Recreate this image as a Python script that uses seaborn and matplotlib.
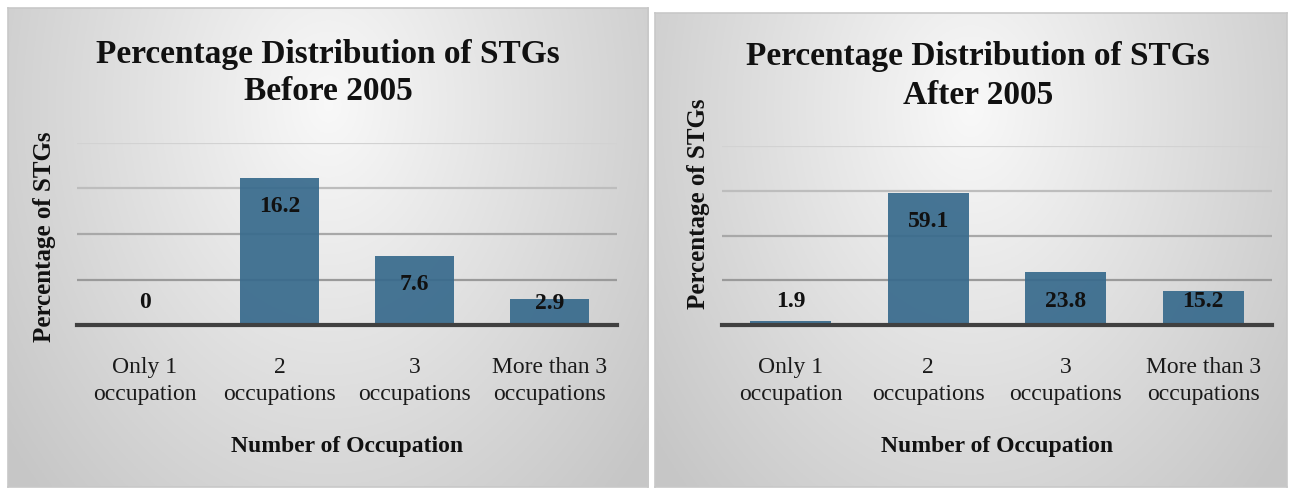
import numpy as np
import seaborn as sns
import matplotlib.pyplot as plt

# data
categories = ["Only 1\noccupation", "2\noccupations", "3\noccupations", "More than 3\noccupations"]
before_2005 = [0, 16.2, 7.6, 2.9]
after_2005 = [1.9, 59.1, 23.8, 15.2]

sns.set_theme(style="white")
plt.rcParams['font.family'] = ['Liberation Serif', 'DejaVu Serif']

bar_color = "#376a8c"
W, H = 1290, 488
fig = plt.figure(figsize=(W / 100, H / 100), dpi=100)
fig.patch.set_facecolor("white")


def panel_bg(x0, y0, x1, y1):
    # soft radial grey gradient like the Office chart style
    bg = fig.add_axes([x0 / W, 1 - y1 / H, (x1 - x0) / W, (y1 - y0) / H], zorder=0)
    xx, yy = np.meshgrid(np.linspace(-1, 1, 300), np.linspace(0, 1, 200))
    r = np.sqrt((xx / 1.1) ** 2 + ((yy - 0.2) / 1.0) ** 2)
    shade = np.clip(0.975 - 0.17 * r, 0.78, 1.0)
    bg.imshow(np.dstack([shade] * 3), aspect="auto", extent=[0, 1, 1, 0])
    bg.set_xticks([])
    bg.set_yticks([])
    for s in bg.spines.values():
        s.set_color("#c8c8c8")
        s.set_linewidth(1.2)
    return bg


def draw(rect, values, ymax, step, label_y):
    ax = fig.add_axes(rect, zorder=2)
    ax.patch.set_alpha(0)
    sns.barplot(x=categories, y=values, ax=ax, color=bar_color, width=0.59,
                alpha=0.92, saturation=1, linewidth=0, zorder=2)
    ax.set_ylim(0, ymax)
    ax.set_xlim(-0.5, 3.5)
    ax.set_yticks(np.arange(step, ymax + step / 2, step))
    ax.set_yticklabels([])
    ax.set_xticks(range(len(categories)))
    ax.set_xticklabels(categories, linespacing=1.4)
    ax.tick_params(axis="y", length=0)
    ax.tick_params(axis="x", length=0, pad=23, labelsize=17, labelcolor="#1a1a1a")
    ax.yaxis.grid(True, linewidth=1.6, zorder=1)
    greys = ["#9a9a9a", "#a8a8a8", "#bdbdbd", "#d2d2d2"]
    for g, c in zip(ax.get_ygridlines(), greys):
        g.set_color(c)
    for s in ["top", "right", "left"]:
        ax.spines[s].set_visible(False)
    ax.spines["bottom"].set_color("#404040")
    ax.spines["bottom"].set_linewidth(3)
    for i, v in enumerate(values):
        ax.text(i, label_y[i], f"{v:g}", ha="center", va="center",
                fontsize=17, fontweight="bold", color="#111111", zorder=4)
    ax.set_xlabel("Number of Occupation", fontsize=17, fontweight="bold",
                  labelpad=22, color="#111111")
    ax.set_ylabel("")
    return ax


panel_bg(8, 8, 648, 487)
panel_bg(655, 13, 1287, 487)

axl = draw([77 / W, 1 - 325 / H, 540 / W, 182 / H], before_2005, 20, 5,
           [2.5, 13.0, 4.4, 2.4])
axr = draw([722 / W, 1 - 325 / H, 550 / W, 179 / H], after_2005, 80, 20,
           [10.4, 46.4, 10.4, 10.4])

fig.text(328 / W, 1 - 73 / H, "Percentage Distribution of STGs\nBefore 2005",
         ha="center", va="center", fontsize=24, fontweight="bold",
         linespacing=1.25, color="#111111", zorder=5)
fig.text(978 / W, 1 - 76 / H, "Percentage Distribution of STGs\nAfter 2005",
         ha="center", va="center", fontsize=24, fontweight="bold",
         linespacing=1.3, color="#111111", zorder=5)
fig.text(45 / W, 1 - 237 / H, "Percentage of STGs", rotation=90, ha="center",
         va="center", fontsize=18, fontweight="bold", color="#111111", zorder=5)
fig.text(698 / W, 1 - 204 / H, "Percentage of STGs", rotation=90, ha="center",
         va="center", fontsize=18, fontweight="bold", color="#111111", zorder=5)

fig.savefig("out.png", dpi=100)
